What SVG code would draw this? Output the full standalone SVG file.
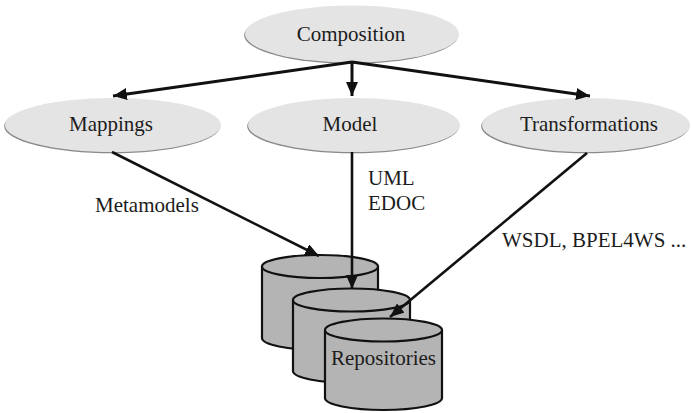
<svg xmlns="http://www.w3.org/2000/svg" width="691" height="413" viewBox="0 0 691 413">
  <style>
    text { font-family: 'Liberation Serif', 'Tinos', 'Times New Roman', 'DejaVu Serif', serif; font-size: 21px; fill: #1c1c1c; }
    .node-shadow { fill: #8a8a8a; }
    .node-body { fill: #e4e4e4; }
    .store { fill: #b4b4b4; stroke: #111; stroke-width: 2.2; }
    .edge { stroke: #111; stroke-width: 3; fill: none; marker-end: url(#head); }
    .edge-thin { stroke: #111; stroke-width: 2.6; fill: none; marker-end: url(#head); }
  </style>
  <defs>
    <marker id="head" markerUnits="userSpaceOnUse" markerWidth="14" markerHeight="12" refX="14" refY="6" orient="auto">
      <path d="M0,0 L14,6 L0,12 z" fill="#111"/>
    </marker>
  </defs>

  <rect width="691" height="413" fill="#ffffff"/>

  <!-- concept nodes -->
  <g id="composition">
    <ellipse class="node-shadow" cx="351.2" cy="35.2" rx="107" ry="28.5"/>
    <ellipse class="node-body" cx="352" cy="34" rx="107" ry="28.5"/>
    <text x="351" y="41" text-anchor="middle">Composition</text>
  </g>
  <g id="mappings">
    <ellipse class="node-shadow" cx="112.2" cy="126.2" rx="108" ry="27"/>
    <ellipse class="node-body" cx="113" cy="125" rx="108" ry="27"/>
    <text x="111" y="131" text-anchor="middle">Mappings</text>
  </g>
  <g id="model">
    <ellipse class="node-shadow" cx="353.2" cy="126.2" rx="106" ry="27"/>
    <ellipse class="node-body" cx="354" cy="125" rx="106" ry="27"/>
    <text x="350" y="131" text-anchor="middle">Model</text>
  </g>
  <g id="transformations">
    <ellipse class="node-shadow" cx="585.2" cy="126.2" rx="104" ry="27"/>
    <ellipse class="node-body" cx="586" cy="125" rx="104" ry="27"/>
    <text x="589" y="131" text-anchor="middle">Transformations</text>
  </g>

  <!-- stacked repository cylinders -->
  <g id="repository-1">
    <path class="store" d="M262,266.5 L262,338 A58,12 0 0 0 378,338 L378,266.5"/>
    <ellipse class="store" cx="320" cy="266.5" rx="58" ry="11.5"/>
  </g>
  <g id="repository-2">
    <path class="store" d="M293,300 L293,371 A58.5,12 0 0 0 410,371 L410,300"/>
    <ellipse class="store" cx="351.5" cy="300" rx="58.5" ry="11.5"/>
  </g>
  <g id="repositories">
    <path class="store" d="M325,330 L325,398 A58.5,12 0 0 0 442,398 L442,330"/>
    <ellipse class="store" cx="383.5" cy="330" rx="58.5" ry="11.5"/>
    <text x="383.5" y="365" text-anchor="middle">Repositories</text>
  </g>

  <!-- connectors -->
  <g id="connectors">
    <line class="edge" x1="352" y1="62" x2="113" y2="96"/>
    <line class="edge" x1="352" y1="62" x2="352" y2="96"/>
    <line class="edge" x1="352" y1="62" x2="590" y2="96"/>
    <line class="edge-thin" x1="112" y1="152" x2="319" y2="256"/>
    <line class="edge-thin" x1="352" y1="152" x2="352" y2="289"/>
    <line class="edge-thin" x1="587" y1="153" x2="390" y2="317"/>
  </g>

  <!-- connector labels -->
  <g id="edge-labels">
    <text x="95" y="212">Metamodels</text>
    <text x="368" y="185">UML</text>
    <text x="368" y="210">EDOC</text>
    <text x="502" y="247">WSDL, BPEL4WS ...</text>
  </g>
</svg>
